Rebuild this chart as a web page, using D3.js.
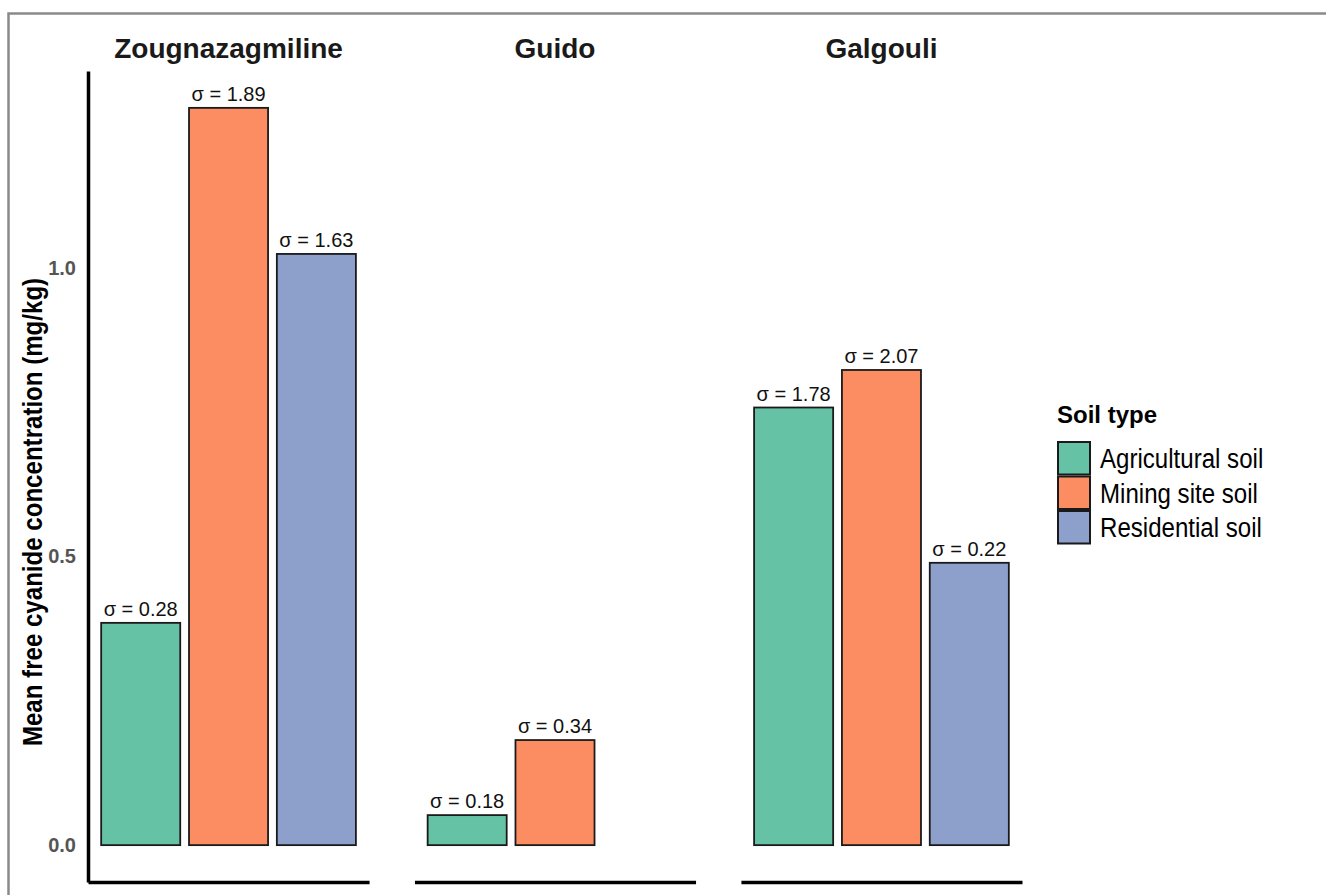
<!DOCTYPE html>
<html>
<head>
<meta charset="utf-8">
<script src="https://cdn.jsdelivr.net/npm/d3@7"></script>
<style>
  html, body { margin: 0; padding: 0; background: #fff; }
  svg { display: block; font-family: "Liberation Sans", Arial, Helvetica, sans-serif; }
  .y-axis .tick text { font-size: 20px; font-weight: bold; fill: #555; }
</style>
</head>
<body>
<svg id="chart" width="1326" height="895"></svg>
<script>
// Sampling sites (one facet each) and soil types (bars inside each facet)
const sites = ["Zougnazagmiline", "Guido", "Galgouli"];
const soilTypes = ["Agricultural soil", "Mining site soil", "Residential soil"];

// Mean free cyanide concentration (mg/kg), in soilTypes order; null = no sample
const zougnazagmilineMeans = [0.385, 1.277, 1.024];
const guidoMeans = [0.052, 0.182, null];
const galgouliMeans = [0.758, 0.823, 0.489];

// Standard deviation printed above each bar
const zougnazagmilineSigma = ["0.28", "1.89", "1.63"];
const guidoSigma = ["0.18", "0.34", null];
const galgouliSigma = ["1.78", "2.07", "0.22"];

const yTicks = [0, 0.5, 1.0];
const soilColors = ["#66c2a5", "#fc8d62", "#8da0cb"];

const meansBySite = [zougnazagmilineMeans, guidoMeans, galgouliMeans];
const sigmaBySite = [zougnazagmilineSigma, guidoSigma, galgouliSigma];

const rows = [];
sites.forEach((site, i) => {
  soilTypes.forEach((soil, j) => {
    const v = meansBySite[i][j];
    if (v !== null) rows.push({ site, soil, mean: v, sigma: sigmaBySite[i][j] });
  });
});

const svg = d3.select("#chart");

// outer frame
svg.append("rect")
  .attr("x", 8.5).attr("y", 13.5)
  .attr("width", 1340).attr("height", 900)
  .attr("fill", "none").attr("stroke", "#8a8a8a").attr("stroke-width", 2.5);

// scales
const panelX = d3.scaleBand().domain(sites).range([88, 1022]).paddingInner(0.139).paddingOuter(0);
const barX = d3.scaleBand().domain(soilTypes).range([0, panelX.bandwidth()])
  .paddingInner(0.1).paddingOuter(0.15);
const color = d3.scaleOrdinal().domain(soilTypes).range(soilColors);

const yMax = d3.max(rows, d => d.mean);
const yPad = yMax * 0.05;
const y = d3.scaleLinear().domain([-yPad, yMax + yPad]).range([882, 71]);

// left axis (first facet only)
const yAxis = svg.append("g")
  .attr("class", "y-axis")
  .attr("transform", `translate(${panelX(sites[0])},0)`)
  .call(d3.axisLeft(y).tickValues(yTicks).tickSize(0).tickPadding(12).tickFormat(d3.format(".1f")));
yAxis.select(".domain").attr("stroke", "#000").attr("stroke-width", 3.5);
yAxis.attr("font-family", "'Liberation Sans', Arial, sans-serif").attr("font-size", 20);

// y title
svg.append("text")
  .attr("transform", "translate(42,512) rotate(-90) scale(0.86,1)")
  .attr("text-anchor", "middle")
  .attr("font-size", 28).attr("font-weight", "bold").attr("fill", "#000")
  .text("Mean free cyanide concentration (mg/kg)");

// facets
const panels = svg.selectAll("g.panel").data(sites).join("g")
  .attr("class", "panel")
  .attr("transform", d => `translate(${panelX(d)},0)`);

panels.append("text")
  .attr("x", panelX.bandwidth() / 2).attr("y", 58)
  .attr("text-anchor", "middle")
  .attr("font-size", 28).attr("font-weight", "bold").attr("fill", "#1a1a1a")
  .text(d => d);

panels.each(function(site) {
  const g = d3.select(this);
  const xAxis = g.append("g")
    .attr("transform", `translate(0,${y(-yPad)})`)
    .call(d3.axisBottom(barX).tickSize(0).tickSizeOuter(0).tickFormat(""));
  xAxis.select(".domain").attr("stroke", "#000").attr("stroke-width", 3.5);

  const data = rows.filter(r => r.site === site);
  g.selectAll("rect.bar").data(data).join("rect")
    .attr("class", "bar")
    .attr("x", d => barX(d.soil))
    .attr("width", barX.bandwidth())
    .attr("y", d => y(d.mean))
    .attr("height", d => y(0) - y(d.mean))
    .attr("fill", d => color(d.soil))
    .attr("stroke", "#1a1a1a").attr("stroke-width", 1.8);

  g.selectAll("text.sigma").data(data).join("text")
    .attr("class", "sigma")
    .attr("x", d => barX(d.soil) + barX.bandwidth() / 2)
    .attr("y", d => y(d.mean) - 7)
    .attr("text-anchor", "middle")
    .attr("font-size", 20).attr("fill", "#111")
    .text(d => `σ = ${d.sigma}`);
});

// legend
const legend = svg.append("g").attr("transform", "translate(1057,0)");
legend.append("text")
  .attr("x", 0).attr("y", 423)
  .attr("font-size", 24).attr("font-weight", "bold").attr("fill", "#000")
  .text("Soil type");

const keyH = 34.5;
const items = legend.selectAll("g.item").data(soilTypes).join("g")
  .attr("class", "item")
  .attr("transform", (d, i) => `translate(0,${441 + i * keyH})`);
items.append("rect")
  .attr("x", 1).attr("y", 1)
  .attr("width", 32).attr("height", keyH - 2)
  .attr("fill", d => color(d))
  .attr("stroke", "#1a1a1a").attr("stroke-width", 2);
items.append("text")
  .attr("transform", `translate(43,${keyH / 2 + 10}) scale(0.86,1)`)
  .attr("font-size", 28).attr("fill", "#000")
  .text(d => d);
</script>
</body>
</html>
